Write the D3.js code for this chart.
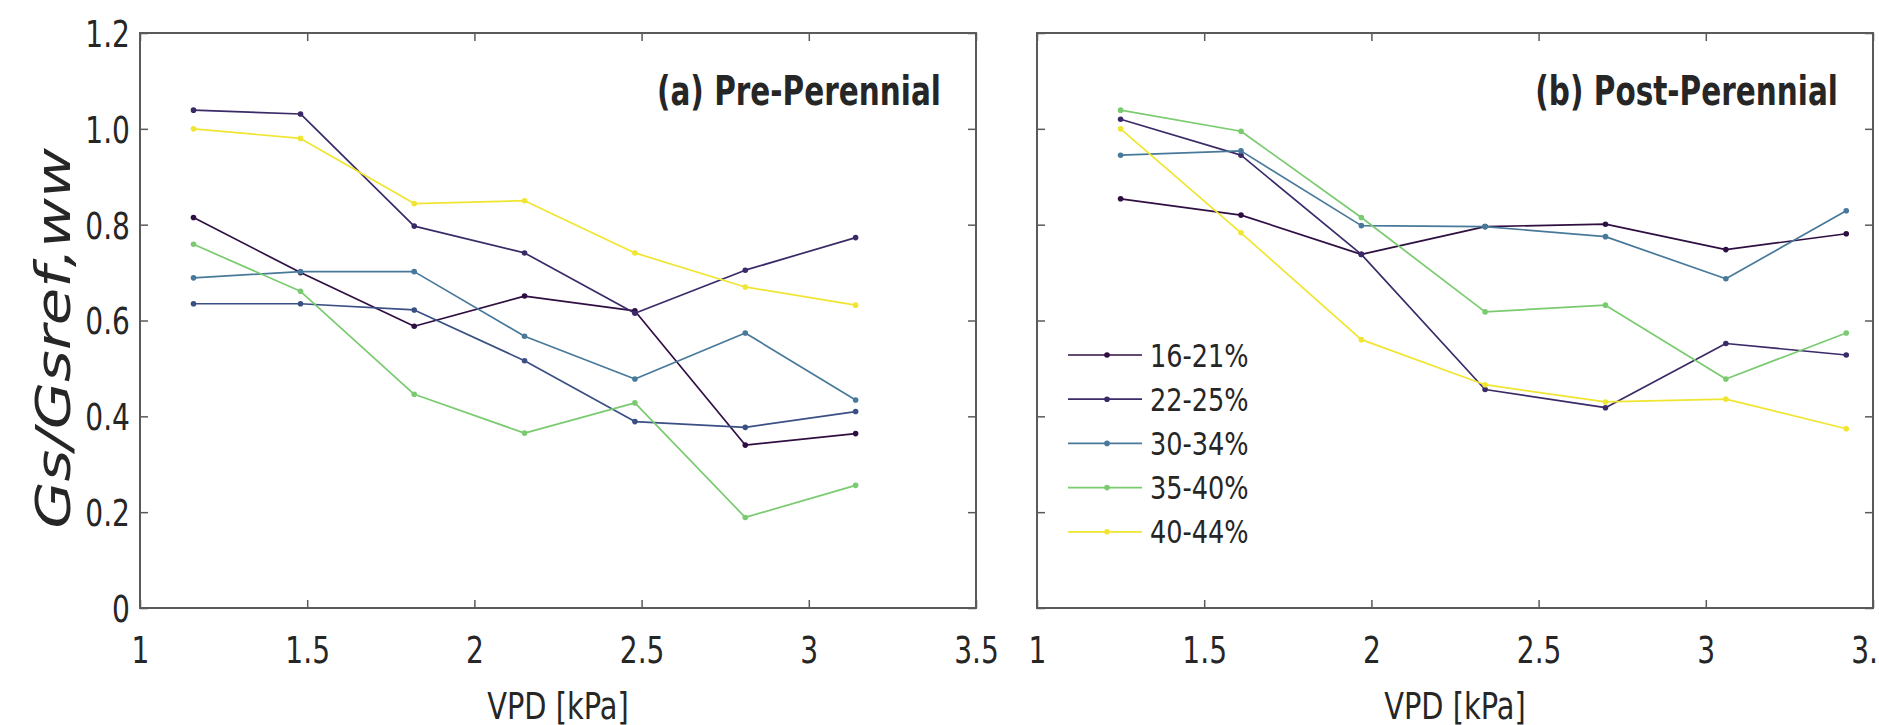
<!DOCTYPE html>
<html>
<head>
<meta charset="utf-8">
<script src="https://cdn.jsdelivr.net/npm/d3@7"></script>
<style>
  body { margin: 0; background: #fff; }
  svg { display: block; }
  text { font-family: "DejaVu Sans", sans-serif; fill: #262626; }
</style>
</head>
<body>
<svg id="chart"></svg>
<script>
// x positions (VPD, kPa) of the binned points
const vpdPre = [1.16, 1.48, 1.82, 2.15, 2.48, 2.81, 3.14];
const vpdPost = [1.25, 1.61, 1.97, 2.34, 2.70, 3.06, 3.42];

const xTicks = [1, 1.5, 2, 2.5, 3, 3.5];
const yTicks = [0, 0.2, 0.4, 0.6, 0.8, 1.0, 1.2];

const legendLabels = ["16-21%", "22-25%", "30-34%", "35-40%", "40-44%"];

// (a) pre-perennial
const pre16_21 = [0.815, 0.700, 0.588, 0.651, 0.620, 0.340, 0.364];
const pre22_25 = [1.039, 1.031, 0.797, 0.741, 0.615, 0.705, 0.773];
const preExtra = [0.635, 0.635, 0.622, 0.516, 0.389, 0.377, 0.410]; // line not in legend
const pre30_34 = [0.689, 0.702, 0.702, 0.567, 0.478, 0.574, 0.434];
const pre35_40 = [0.759, 0.661, 0.446, 0.365, 0.428, 0.189, 0.256];
const pre40_44 = [1.000, 0.980, 0.844, 0.850, 0.741, 0.670, 0.632];

// (b) post-perennial
const post16_21 = [0.854, 0.820, 0.738, 0.796, 0.801, 0.748, 0.781];
const post22_25 = [1.020, 0.945, 0.738, 0.456, 0.418, 0.552, 0.528];
const post30_34 = [0.945, 0.954, 0.798, 0.796, 0.775, 0.687, 0.829];
const post35_40 = [1.039, 0.995, 0.815, 0.618, 0.632, 0.478, 0.574];
const post40_44 = [1.000, 0.783, 0.560, 0.466, 0.430, 0.436, 0.374];

const colors = {
  "16-21%": "#2f0f42",
  "22-25%": "#3b2a68",
  extra: "#3a4f84",
  "30-34%": "#48799a",
  "35-40%": "#7acb70",
  "40-44%": "#f0e530",
};

const panels = [
  {
    title: "(a) Pre-Perennial",
    left: 140,
    showY: true,
    x: vpdPre,
    series: [
      { key: "16-21%", values: pre16_21 },
      { key: "22-25%", values: pre22_25 },
      { key: "extra", values: preExtra },
      { key: "30-34%", values: pre30_34 },
      { key: "35-40%", values: pre35_40 },
      { key: "40-44%", values: pre40_44 },
    ],
  },
  {
    title: "(b) Post-Perennial",
    left: 1037,
    showY: false,
    legend: true,
    x: vpdPost,
    series: [
      { key: "16-21%", values: post16_21 },
      { key: "22-25%", values: post22_25 },
      { key: "30-34%", values: post30_34 },
      { key: "35-40%", values: post35_40 },
      { key: "40-44%", values: post40_44 },
    ],
  },
];

const width = 1879;
const height = 725;
const marginTop = 33;
const pw = 836; // panel width
const ph = 575; // panel height
const squeeze = 0.76; // the figure text is horizontally compressed

const svg = d3
  .select("#chart")
  .attr("width", width)
  .attr("height", height)
  .attr("viewBox", [0, 0, width, height]);

svg.append("rect").attr("width", width).attr("height", height).attr("fill", "#fff");

function squeezeText(sel, sx) {
  sel.each(function () {
    const t = d3.select(this);
    const x = +t.attr("x") || 0;
    t.attr("x", x / sx).attr("transform", `scale(${sx},1)`);
  });
}

panels.forEach((p) => {
  const x = d3.scaleLinear().domain([1, 3.5]).range([0, pw]);
  const y = d3.scaleLinear().domain([0, 1.2]).range([ph, 0]);

  const g = svg.append("g").attr("transform", `translate(${p.left},${marginTop})`);

  // inward ticks on all sides (matlab box)
  const bottom = g
    .append("g")
    .attr("transform", `translate(0,${ph})`)
    .call(d3.axisBottom(x).tickValues(xTicks).tickSize(-8).tickFormat(d3.format("~g")));
  g.append("g").call(d3.axisTop(x).tickValues(xTicks).tickSize(-8).tickFormat(""));
  const leftAx = g
    .append("g")
    .call(
      d3
        .axisLeft(y)
        .tickValues(yTicks)
        .tickSize(-8)
        .tickFormat((d) => (p.showY ? (d === 0 ? "0" : d3.format(".1f")(d)) : ""))
    );
  g.append("g")
    .attr("transform", `translate(${pw},0)`)
    .call(d3.axisRight(y).tickValues(yTicks).tickSize(-8).tickFormat(""));

  g.selectAll(".domain").remove();
  g.selectAll(".tick line").attr("stroke", "#5a5a5a").attr("stroke-width", 1.5);

  bottom
    .selectAll("text")
    .attr("y", 55)
    .attr("dy", 0)
    .attr("font-size", 37)
    .attr("fill", "#262626")
    .call(squeezeText, squeeze);
  leftAx
    .selectAll("text")
    .attr("x", -10)
    .attr("dy", "0.36em")
    .attr("font-size", 37)
    .attr("fill", "#262626")
    .call(squeezeText, squeeze);

  // box
  g.append("rect")
    .attr("width", pw)
    .attr("height", ph)
    .attr("fill", "none")
    .attr("stroke", "#5a5a5a")
    .attr("stroke-width", 2);

  const line = d3
    .line()
    .x((d, i) => x(p.x[i]))
    .y((d) => y(d));

  p.series.forEach((s) => {
    g.append("path")
      .datum(s.values)
      .attr("d", line)
      .attr("fill", "none")
      .attr("stroke", colors[s.key])
      .attr("stroke-width", 1.7)
      .attr("stroke-linejoin", "round");
    g.selectAll(null)
      .data(s.values)
      .join("circle")
      .attr("cx", (d, i) => x(p.x[i]))
      .attr("cy", (d) => y(d))
      .attr("r", 2.8)
      .attr("fill", colors[s.key]);
  });

  // panel title
  g.append("text")
    .attr("x", pw - 35)
    .attr("y", 72)
    .attr("text-anchor", "end")
    .attr("font-size", 41)
    .attr("font-weight", "bold")
    .attr("fill", "#111")
    .text(p.title)
    .call(squeezeText, 0.72);

  // x label
  g.append("text")
    .attr("x", pw / 2)
    .attr("y", ph + 111)
    .attr("text-anchor", "middle")
    .attr("font-size", 38)
    .text("VPD [kPa]")
    .call(squeezeText, squeeze);

  if (p.legend) {
    const lg = g.append("g").attr("transform", "translate(31,322)");
    const row = lg
      .selectAll("g")
      .data(legendLabels)
      .join("g")
      .attr("transform", (d, i) => `translate(0,${i * 44.2})`);
    row.append("line")
      .attr("x1", 0)
      .attr("x2", 74)
      .attr("stroke", (d) => colors[d])
      .attr("stroke-width", 1.7);
    row.append("circle").attr("cx", 39).attr("r", 2.8).attr("fill", (d) => colors[d]);
    row.append("text")
      .attr("x", 82)
      .attr("dy", "0.36em")
      .attr("font-size", 32)
      .text((d) => d)
      .call(squeezeText, 0.8);
  }
});

// y label
svg.append("text")
  .attr("transform", `translate(70,${marginTop + ph / 2 + 18}) rotate(-90) scale(1,0.8)`)
  .attr("text-anchor", "middle")
  .attr("font-size", 61)
  .attr("font-style", "italic")
  .text("Gs/Gsref,ww");
</script>
</body>
</html>
